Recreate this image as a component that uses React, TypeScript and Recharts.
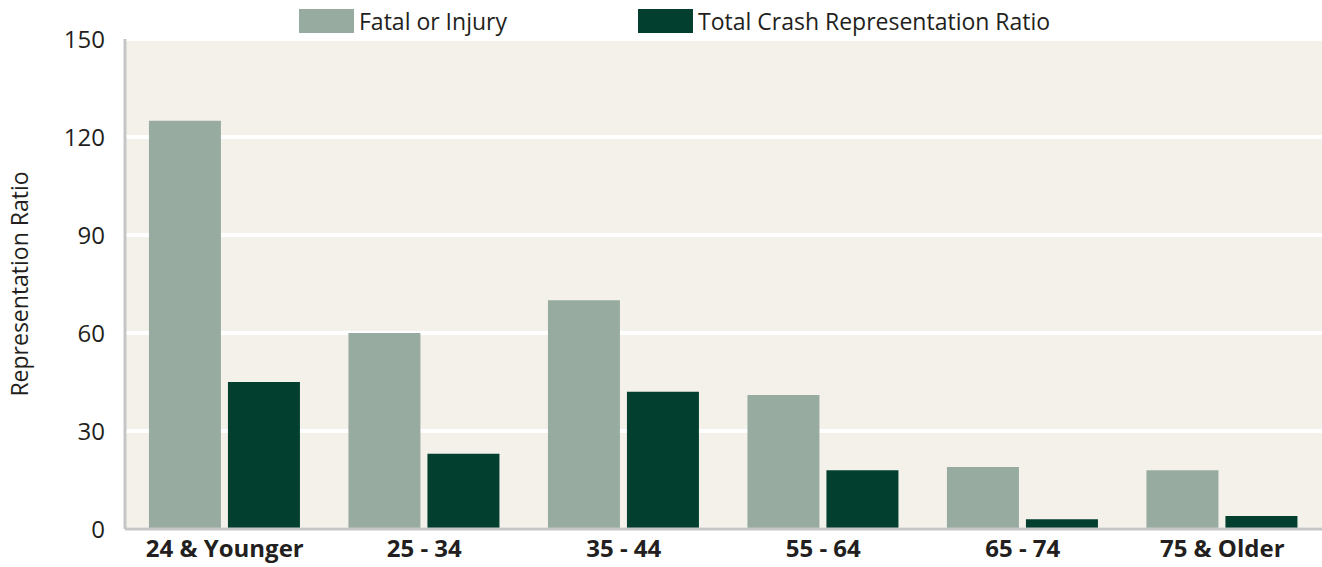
import { BarChart, Bar, XAxis, YAxis, CartesianGrid } from 'recharts';

const ageGroups = ['24 & Younger', '25 - 34', '35 - 44', '55 - 64', '65 - 74', '75 & Older'];
const fatalOrInjury = [125, 60, 70, 41, 19, 18];
const totalCrash = [45, 23, 42, 18, 3, 4];
const yTicks = [0, 30, 60, 90, 120, 150];

const FATAL_COLOR = '#98aba1';
const TOTAL_COLOR = '#023f2f';
const FONT = '"Open Sans", "Noto Sans", sans-serif';

const data = ageGroups.map((group, i) => ({
  group,
  fatal: fatalOrInjury[i],
  total: totalCrash[i],
}));

const legendItems = [
  { label: 'Fatal or Injury', color: FATAL_COLOR, left: 299 },
  { label: 'Total Crash Representation Ratio', color: TOTAL_COLOR, left: 638 },
];

const App = () => {
  return (
    <div style={{ position: 'relative', width: 1322, height: 567 }}>
      <style>{'body { margin: 0; }'}</style>
      {legendItems.map(item => (
        <div
          key={item.label}
          style={{
            position: 'absolute',
            left: item.left,
            top: 9,
            display: 'flex',
            alignItems: 'center',
            fontFamily: FONT,
            fontSize: 23,
            color: '#231f20',
            lineHeight: '24px',
          }}
        >
          <span style={{ width: 55, height: 24, background: item.color, display: 'inline-block', marginRight: 5 }} />
          <span>{item.label}</span>
        </div>
      ))}
      <BarChart
        width={1322}
        height={567}
        data={data}
        margin={{ top: 39, right: 0, bottom: 8, left: 0 }}
        barCategoryGap="12%"
        barGap={7}
      >
        <CartesianGrid fill="#f4f1ea" stroke="#ffffff" strokeWidth={4} vertical={false} />
        <XAxis
          dataKey="group"
          height={30}
          tickLine={false}
          axisLine={{ stroke: '#c6c6c6', strokeWidth: 3 }}
          tickSize={0}
          tickMargin={11}
          tick={{ fill: '#231f20', fontSize: 24, fontWeight: 700, fontFamily: FONT }}
        />
        <YAxis
          width={125}
          domain={[0, 150]}
          ticks={yTicks}
          tickLine={false}
          axisLine={{ stroke: '#c6c6c6', strokeWidth: 3 }}
          tickSize={0}
          tickMargin={20}
          tick={{ fill: '#231f20', fontSize: 24, fontFamily: FONT }}
          label={{
            value: 'Representation Ratio',
            angle: -90,
            position: 'insideLeft',
            offset: 20,
            style: { textAnchor: 'middle', fill: '#231f20', fontSize: 23, fontFamily: FONT },
          }}
        />
        <Bar dataKey="fatal" name="Fatal or Injury" fill={FATAL_COLOR} isAnimationActive={false} />
        <Bar dataKey="total" name="Total Crash Representation Ratio" fill={TOTAL_COLOR} isAnimationActive={false} />
      </BarChart>
    </div>
  );
};

export default App;
